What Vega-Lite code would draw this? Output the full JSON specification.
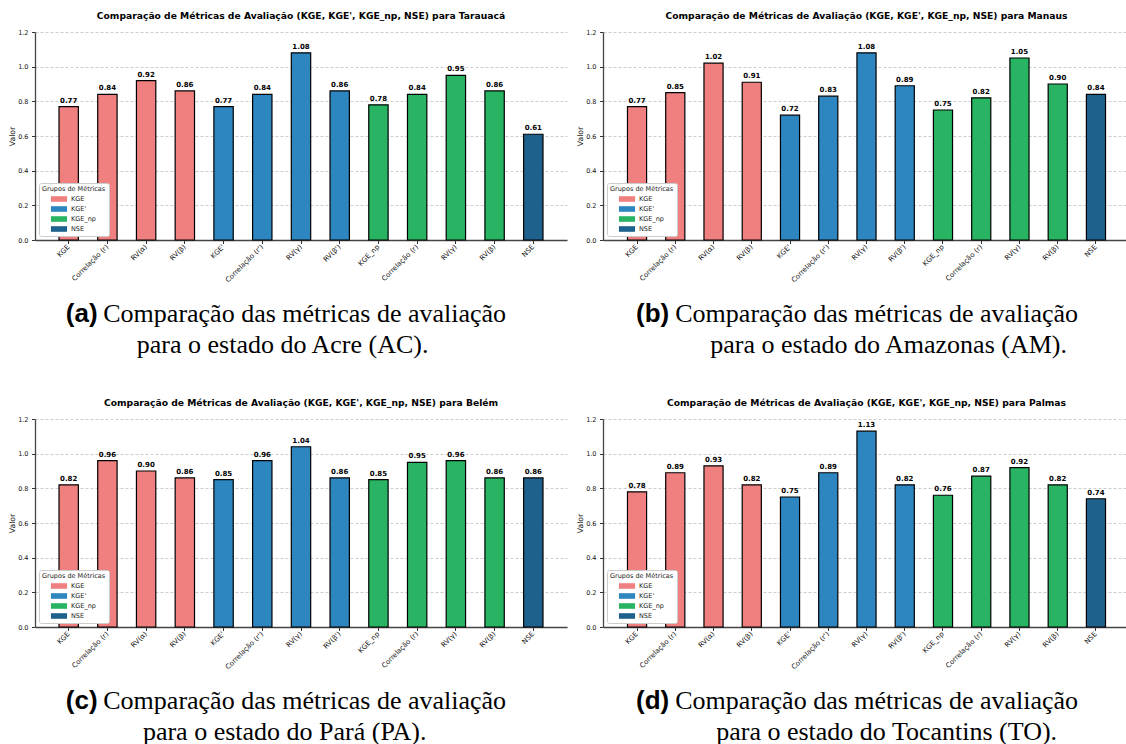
{
  "$schema": "https://vega.github.io/schema/vega-lite/v6.json",
  "background": "white",
  "padding": {"left": 8, "top": 11, "right": 0, "bottom": 0},
  "resolve": {"scale": {"color": "independent"}, "legend": {"color": "independent"}},
  "config": {
    "font": "DejaVu Sans",
    "view": {"stroke": null},
    "axisX": {"labelAngle": -45, "labelAlign": "right", "labelBaseline": "middle", "labelExpr": "split(datum.value, '|')[1]", "labelFontSize": 7, "labelFont": "DejaVu Sans", "labelColor": "#111", "tickSize": 3.5, "tickColor": "#333", "domainColor": "#444", "domainWidth": 1.3, "labelPadding": 2, "grid": false, "labelOverlap": false, "labelLimit": 0},
    "axisY": {"titleFont": "DejaVu Sans", "titleFontSize": 7.7, "titleFontWeight": "normal", "titleColor": "#111", "titlePadding": 1, "values": [0, 0.2, 0.4, 0.6, 0.8, 1.0, 1.2], "format": ".1f", "labelFontSize": 6.5, "labelFont": "DejaVu Sans", "labelColor": "#111", "tickSize": 3.5, "tickColor": "#333", "labelPadding": 3.5, "grid": true, "gridDash": [3, 2], "gridColor": "#b8b8b8", "gridWidth": 0.7, "domainColor": "#444", "domainWidth": 1.3},
    "legend": {"orient": "bottom-left", "offset": 4, "fillColor": "white", "strokeColor": "#cccccc", "padding": 3, "cornerRadius": 2, "titleFont": "DejaVu Sans", "titleFontSize": 6.5, "titleFontWeight": "normal", "titleColor": "#222", "titlePadding": 3, "labelFont": "DejaVu Sans", "labelFontSize": 6.5, "labelColor": "#222", "symbolType": "M-2.3,-0.8H2.3V0.8H-2.3Z", "symbolSize": 49, "symbolStrokeWidth": 0, "symbolOffset": 13.5, "labelOffset": 8.5, "rowPadding": 3},
    "title": {"font": "DejaVu Sans", "fontSize": 9.2, "fontWeight": "bold", "color": "#000"}
  },
  "datasets": {
    "m": [
      {"city": "Tarauacá", "slot": "KGE|KGE", "group": "KGE", "value": 0.77},
      {"city": "Tarauacá", "slot": "KGE|Correlação (r)", "group": "KGE", "value": 0.84},
      {"city": "Tarauacá", "slot": "KGE|RV(α)", "group": "KGE", "value": 0.92},
      {"city": "Tarauacá", "slot": "KGE|RV(β)", "group": "KGE", "value": 0.86},
      {"city": "Tarauacá", "slot": "KGE'|KGE'", "group": "KGE'", "value": 0.77},
      {"city": "Tarauacá", "slot": "KGE'|Correlação (r')", "group": "KGE'", "value": 0.84},
      {"city": "Tarauacá", "slot": "KGE'|RV(γ)", "group": "KGE'", "value": 1.08},
      {"city": "Tarauacá", "slot": "KGE'|RV(β')", "group": "KGE'", "value": 0.86},
      {"city": "Tarauacá", "slot": "KGE_np|KGE_np", "group": "KGE_np", "value": 0.78},
      {"city": "Tarauacá", "slot": "KGE_np|Correlação (r)", "group": "KGE_np", "value": 0.84},
      {"city": "Tarauacá", "slot": "KGE_np|RV(γ)", "group": "KGE_np", "value": 0.95},
      {"city": "Tarauacá", "slot": "KGE_np|RV(β)", "group": "KGE_np", "value": 0.86},
      {"city": "Tarauacá", "slot": "NSE|NSE", "group": "NSE", "value": 0.61},
      {"city": "Manaus", "slot": "KGE|KGE", "group": "KGE", "value": 0.77},
      {"city": "Manaus", "slot": "KGE|Correlação (r)", "group": "KGE", "value": 0.85},
      {"city": "Manaus", "slot": "KGE|RV(α)", "group": "KGE", "value": 1.02},
      {"city": "Manaus", "slot": "KGE|RV(β)", "group": "KGE", "value": 0.91},
      {"city": "Manaus", "slot": "KGE'|KGE'", "group": "KGE'", "value": 0.72},
      {"city": "Manaus", "slot": "KGE'|Correlação (r')", "group": "KGE'", "value": 0.83},
      {"city": "Manaus", "slot": "KGE'|RV(γ)", "group": "KGE'", "value": 1.08},
      {"city": "Manaus", "slot": "KGE'|RV(β')", "group": "KGE'", "value": 0.89},
      {"city": "Manaus", "slot": "KGE_np|KGE_np", "group": "KGE_np", "value": 0.75},
      {"city": "Manaus", "slot": "KGE_np|Correlação (r)", "group": "KGE_np", "value": 0.82},
      {"city": "Manaus", "slot": "KGE_np|RV(γ)", "group": "KGE_np", "value": 1.05},
      {"city": "Manaus", "slot": "KGE_np|RV(β)", "group": "KGE_np", "value": 0.90},
      {"city": "Manaus", "slot": "NSE|NSE", "group": "NSE", "value": 0.84},
      {"city": "Belém", "slot": "KGE|KGE", "group": "KGE", "value": 0.82},
      {"city": "Belém", "slot": "KGE|Correlação (r)", "group": "KGE", "value": 0.96},
      {"city": "Belém", "slot": "KGE|RV(α)", "group": "KGE", "value": 0.90},
      {"city": "Belém", "slot": "KGE|RV(β)", "group": "KGE", "value": 0.86},
      {"city": "Belém", "slot": "KGE'|KGE'", "group": "KGE'", "value": 0.85},
      {"city": "Belém", "slot": "KGE'|Correlação (r')", "group": "KGE'", "value": 0.96},
      {"city": "Belém", "slot": "KGE'|RV(γ)", "group": "KGE'", "value": 1.04},
      {"city": "Belém", "slot": "KGE'|RV(β')", "group": "KGE'", "value": 0.86},
      {"city": "Belém", "slot": "KGE_np|KGE_np", "group": "KGE_np", "value": 0.85},
      {"city": "Belém", "slot": "KGE_np|Correlação (r)", "group": "KGE_np", "value": 0.95},
      {"city": "Belém", "slot": "KGE_np|RV(γ)", "group": "KGE_np", "value": 0.96},
      {"city": "Belém", "slot": "KGE_np|RV(β)", "group": "KGE_np", "value": 0.86},
      {"city": "Belém", "slot": "NSE|NSE", "group": "NSE", "value": 0.86},
      {"city": "Palmas", "slot": "KGE|KGE", "group": "KGE", "value": 0.78},
      {"city": "Palmas", "slot": "KGE|Correlação (r)", "group": "KGE", "value": 0.89},
      {"city": "Palmas", "slot": "KGE|RV(α)", "group": "KGE", "value": 0.93},
      {"city": "Palmas", "slot": "KGE|RV(β)", "group": "KGE", "value": 0.82},
      {"city": "Palmas", "slot": "KGE'|KGE'", "group": "KGE'", "value": 0.75},
      {"city": "Palmas", "slot": "KGE'|Correlação (r')", "group": "KGE'", "value": 0.89},
      {"city": "Palmas", "slot": "KGE'|RV(γ)", "group": "KGE'", "value": 1.13},
      {"city": "Palmas", "slot": "KGE'|RV(β')", "group": "KGE'", "value": 0.82},
      {"city": "Palmas", "slot": "KGE_np|KGE_np", "group": "KGE_np", "value": 0.76},
      {"city": "Palmas", "slot": "KGE_np|Correlação (r)", "group": "KGE_np", "value": 0.87},
      {"city": "Palmas", "slot": "KGE_np|RV(γ)", "group": "KGE_np", "value": 0.92},
      {"city": "Palmas", "slot": "KGE_np|RV(β)", "group": "KGE_np", "value": 0.82},
      {"city": "Palmas", "slot": "NSE|NSE", "group": "NSE", "value": 0.74}
    ]
  },
  "spacing": 40,
  "vconcat": [
    {
      "spacing": 9,
      "resolve": {"scale": {"color": "independent"}, "legend": {"color": "independent"}},
      "hconcat": [
        {
          "resolve": {"scale": {"color": "independent"}, "legend": {"color": "independent"}},
          "title": {"text": "(a)", "orient": "bottom", "anchor": "start", "align": "center", "frame": "bounds", "baseline": "top", "dx": 73, "offset": -57, "font": "Liberation Sans", "fontSize": 26, "fontWeight": "bold", "color": "#000"},
          "vconcat": [
            {
              "resolve": {"scale": {"color": "independent"}, "legend": {"color": "independent"}},
              "title": {"text": "para o estado do Acre (AC).", "orient": "bottom", "anchor": "start", "align": "center", "frame": "bounds", "baseline": "top", "dx": 274, "offset": 5, "font": "Liberation Serif", "fontSize": 26, "fontWeight": "normal", "color": "#000"},
              "vconcat": [
                {
                  "resolve": {"scale": {"color": "independent"}, "legend": {"color": "independent"}},
                  "title": {"text": "Comparação das métricas de avaliação", "orient": "bottom", "anchor": "start", "align": "center", "frame": "bounds", "baseline": "top", "dx": 296, "offset": 17.5, "font": "Liberation Serif", "fontSize": 26, "fontWeight": "normal", "color": "#000"},
                  "vconcat": [
                    {
                      "width": 532, "height": 208,
                      "title": {"text": "Comparação de Métricas de Avaliação (KGE, KGE', KGE_np, NSE) para Tarauacá", "anchor": "middle", "frame": "group", "offset": 8},
                      "data": {"name": "m"},
                      "transform": [{"filter": "datum.city === 'Tarauacá'"}],
                      "encoding": {
                        "x": {"field": "slot", "type": "nominal", "sort": null, "axis": {"title": null}, "scale": {"paddingInner": 0.5, "paddingOuter": 0.62}},
                        "y": {"field": "value", "type": "quantitative", "axis": {"title": "Valor"}, "scale": {"domain": [0, 1.2], "nice": false}}
                      },
                      "layer": [
                        {"mark": {"type": "bar", "stroke": "#000", "strokeWidth": 1.2}, "encoding": {"color": {"field": "group", "type": "nominal", "sort": null, "legend": {"title": "Grupos de Métricas"}, "scale": {"domain": ["KGE", "KGE'", "KGE_np", "NSE"], "range": ["#F08080", "#2E86C1", "#28B463", "#1F618D"]}}}},
                        {"mark": {"type": "text", "baseline": "bottom", "dy": -3, "fontSize": 7, "fontWeight": "bold", "font": "DejaVu Sans", "color": "#000"}, "encoding": {"text": {"field": "value", "type": "quantitative", "format": ".2f"}}}
                      ]
                    }
                  ]
                }
              ]
            }
          ]
        },
        {
          "resolve": {"scale": {"color": "independent"}, "legend": {"color": "independent"}},
          "title": {"text": "(b)", "orient": "bottom", "anchor": "start", "align": "center", "frame": "bounds", "baseline": "top", "dx": 76, "offset": -57, "font": "Liberation Sans", "fontSize": 26, "fontWeight": "bold", "color": "#000"},
          "vconcat": [
            {
              "resolve": {"scale": {"color": "independent"}, "legend": {"color": "independent"}},
              "title": {"text": "para o estado do Amazonas (AM).", "orient": "bottom", "anchor": "start", "align": "center", "frame": "bounds", "baseline": "top", "dx": 312, "offset": 5, "font": "Liberation Serif", "fontSize": 26, "fontWeight": "normal", "color": "#000"},
              "vconcat": [
                {
                  "resolve": {"scale": {"color": "independent"}, "legend": {"color": "independent"}},
                  "title": {"text": "Comparação das métricas de avaliação", "orient": "bottom", "anchor": "start", "align": "center", "frame": "bounds", "baseline": "top", "dx": 300, "offset": 17.5, "font": "Liberation Serif", "fontSize": 26, "fontWeight": "normal", "color": "#000"},
                  "vconcat": [
                    {
                      "width": 527, "height": 208,
                      "title": {"text": "Comparação de Métricas de Avaliação (KGE, KGE', KGE_np, NSE) para Manaus", "anchor": "middle", "frame": "group", "offset": 8},
                      "data": {"name": "m"},
                      "transform": [{"filter": "datum.city === 'Manaus'"}],
                      "encoding": {
                        "x": {"field": "slot", "type": "nominal", "sort": null, "axis": {"title": null}, "scale": {"paddingInner": 0.5, "paddingOuter": 0.64}},
                        "y": {"field": "value", "type": "quantitative", "axis": {"title": "Valor"}, "scale": {"domain": [0, 1.2], "nice": false}}
                      },
                      "layer": [
                        {"mark": {"type": "bar", "stroke": "#000", "strokeWidth": 1.2}, "encoding": {"color": {"field": "group", "type": "nominal", "sort": null, "legend": {"title": "Grupos de Métricas"}, "scale": {"domain": ["KGE", "KGE'", "KGE_np", "NSE"], "range": ["#F08080", "#2E86C1", "#28B463", "#1F618D"]}}}},
                        {"mark": {"type": "text", "baseline": "bottom", "dy": -3, "fontSize": 7, "fontWeight": "bold", "font": "DejaVu Sans", "color": "#000"}, "encoding": {"text": {"field": "value", "type": "quantitative", "format": ".2f"}}}
                      ]
                    }
                  ]
                }
              ]
            }
          ]
        }
      ]
    },
    {
      "spacing": 9,
      "resolve": {"scale": {"color": "independent"}, "legend": {"color": "independent"}},
      "hconcat": [
        {
          "resolve": {"scale": {"color": "independent"}, "legend": {"color": "independent"}},
          "title": {"text": "(c)", "orient": "bottom", "anchor": "start", "align": "center", "frame": "bounds", "baseline": "top", "dx": 73, "offset": -57, "font": "Liberation Sans", "fontSize": 26, "fontWeight": "bold", "color": "#000"},
          "vconcat": [
            {
              "resolve": {"scale": {"color": "independent"}, "legend": {"color": "independent"}},
              "title": {"text": "para o estado do Pará (PA).", "orient": "bottom", "anchor": "start", "align": "center", "frame": "bounds", "baseline": "top", "dx": 276, "offset": 5, "font": "Liberation Serif", "fontSize": 26, "fontWeight": "normal", "color": "#000"},
              "vconcat": [
                {
                  "resolve": {"scale": {"color": "independent"}, "legend": {"color": "independent"}},
                  "title": {"text": "Comparação das métricas de avaliação", "orient": "bottom", "anchor": "start", "align": "center", "frame": "bounds", "baseline": "top", "dx": 296, "offset": 17.5, "font": "Liberation Serif", "fontSize": 26, "fontWeight": "normal", "color": "#000"},
                  "vconcat": [
                    {
                      "width": 532, "height": 208,
                      "title": {"text": "Comparação de Métricas de Avaliação (KGE, KGE', KGE_np, NSE) para Belém", "anchor": "middle", "frame": "group", "offset": 8},
                      "data": {"name": "m"},
                      "transform": [{"filter": "datum.city === 'Belém'"}],
                      "encoding": {
                        "x": {"field": "slot", "type": "nominal", "sort": null, "axis": {"title": null}, "scale": {"paddingInner": 0.5, "paddingOuter": 0.62}},
                        "y": {"field": "value", "type": "quantitative", "axis": {"title": "Valor"}, "scale": {"domain": [0, 1.2], "nice": false}}
                      },
                      "layer": [
                        {"mark": {"type": "bar", "stroke": "#000", "strokeWidth": 1.2}, "encoding": {"color": {"field": "group", "type": "nominal", "sort": null, "legend": {"title": "Grupos de Métricas"}, "scale": {"domain": ["KGE", "KGE'", "KGE_np", "NSE"], "range": ["#F08080", "#2E86C1", "#28B463", "#1F618D"]}}}},
                        {"mark": {"type": "text", "baseline": "bottom", "dy": -3, "fontSize": 7, "fontWeight": "bold", "font": "DejaVu Sans", "color": "#000"}, "encoding": {"text": {"field": "value", "type": "quantitative", "format": ".2f"}}}
                      ]
                    }
                  ]
                }
              ]
            }
          ]
        },
        {
          "resolve": {"scale": {"color": "independent"}, "legend": {"color": "independent"}},
          "title": {"text": "(d)", "orient": "bottom", "anchor": "start", "align": "center", "frame": "bounds", "baseline": "top", "dx": 76, "offset": -57, "font": "Liberation Sans", "fontSize": 26, "fontWeight": "bold", "color": "#000"},
          "vconcat": [
            {
              "resolve": {"scale": {"color": "independent"}, "legend": {"color": "independent"}},
              "title": {"text": "para o estado do Tocantins (TO).", "orient": "bottom", "anchor": "start", "align": "center", "frame": "bounds", "baseline": "top", "dx": 310, "offset": 5, "font": "Liberation Serif", "fontSize": 26, "fontWeight": "normal", "color": "#000"},
              "vconcat": [
                {
                  "resolve": {"scale": {"color": "independent"}, "legend": {"color": "independent"}},
                  "title": {"text": "Comparação das métricas de avaliação", "orient": "bottom", "anchor": "start", "align": "center", "frame": "bounds", "baseline": "top", "dx": 300, "offset": 17.5, "font": "Liberation Serif", "fontSize": 26, "fontWeight": "normal", "color": "#000"},
                  "vconcat": [
                    {
                      "width": 527, "height": 208,
                      "title": {"text": "Comparação de Métricas de Avaliação (KGE, KGE', KGE_np, NSE) para Palmas", "anchor": "middle", "frame": "group", "offset": 8},
                      "data": {"name": "m"},
                      "transform": [{"filter": "datum.city === 'Palmas'"}],
                      "encoding": {
                        "x": {"field": "slot", "type": "nominal", "sort": null, "axis": {"title": null}, "scale": {"paddingInner": 0.5, "paddingOuter": 0.64}},
                        "y": {"field": "value", "type": "quantitative", "axis": {"title": "Valor"}, "scale": {"domain": [0, 1.2], "nice": false}}
                      },
                      "layer": [
                        {"mark": {"type": "bar", "stroke": "#000", "strokeWidth": 1.2}, "encoding": {"color": {"field": "group", "type": "nominal", "sort": null, "legend": {"title": "Grupos de Métricas"}, "scale": {"domain": ["KGE", "KGE'", "KGE_np", "NSE"], "range": ["#F08080", "#2E86C1", "#28B463", "#1F618D"]}}}},
                        {"mark": {"type": "text", "baseline": "bottom", "dy": -3, "fontSize": 7, "fontWeight": "bold", "font": "DejaVu Sans", "color": "#000"}, "encoding": {"text": {"field": "value", "type": "quantitative", "format": ".2f"}}}
                      ]
                    }
                  ]
                }
              ]
            }
          ]
        }
      ]
    }
  ]
}
